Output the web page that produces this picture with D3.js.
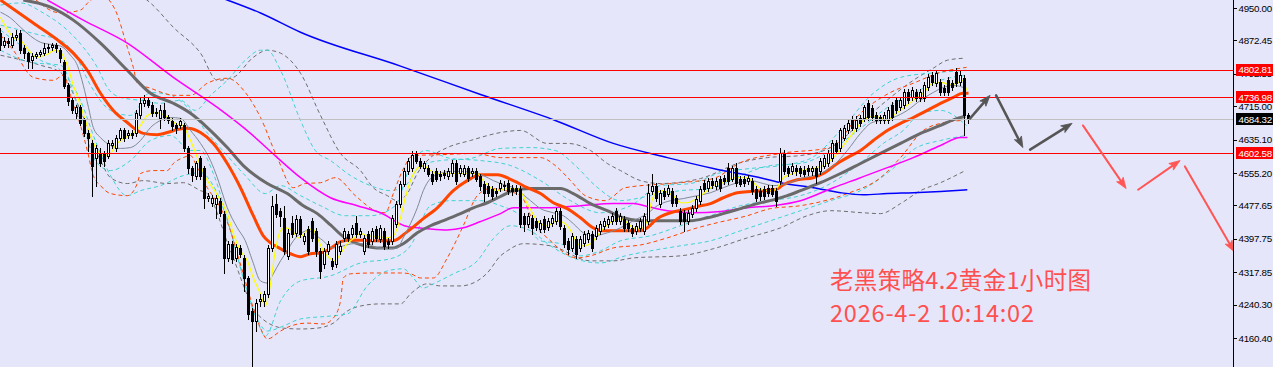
<!DOCTYPE html>
<html><head><meta charset="utf-8">
<script src="https://cdn.jsdelivr.net/npm/d3@7"></script>
<style>
html,body{margin:0;padding:0;background:#e6e6fa;overflow:hidden;}
svg{display:block;}
</style></head><body>
<svg id="c" width="1273" height="367"></svg>
<script>
// ---------------- DATA ----------------
const opens=[4890,4861,4871,4861,4880,4890,4854,4842,4825,4835,
4839,4842,4854,4856,4861,4849,4820,4765,4729,4698,
4712,4681,4650,4626,4592,4604,4602,4597,4621,4616,
4640,4657,4645,4650,4650,4693,4722,4729,4719,4698,
4686,4705,4688,4679,4669,4669,4669,4614,4566,4549,
4590,4566,4496,4484,4482,4489,4458,4352,4386,4352,
4376,4352,4304,4225,4201,4249,4249,4266,4376,4482,
4465,4448,4357,4436,4412,4446,4393,4422,4441,4417,
4369,4338,4369,4345,4338,4369,4400,4410,4410,4436,
4410,4369,4410,4393,4422,4398,4417,4393,4393,4434,
4482,4530,4561,4568,4602,4585,4566,4568,4554,4561,
4554,4556,4549,4556,4580,4556,4554,4566,4556,4561,
4547,4530,4525,4518,4513,4520,4527,4532,4520,4520,
4518,4453,4434,4448,4441,4422,4446,4427,4436,4441,
4465,4424,4393,4376,4398,4376,4388,4398,4410,4405,
4417,4429,4434,4441,4465,4441,4446,4436,4424,4417,
4424,4417,4441,4513,4525,4482,4513,4506,4513,4496,
4465,4460,4441,4458,4472,4489,4532,4520,4537,4525,
4542,4544,4568,4542,4568,4542,4542,4537,4537,4518,
4513,4518,4520,4520,4513,4537,4604,4566,4561,4568,
4566,4563,4568,4559,4566,4561,4573,4578,4592,4626,
4616,4640,4657,4683,4662,4686,4686,4722,4710,4693,
4688,4681,4681,4717,4729,4712,4717,4748,4736,4748,
4734,4734,4760,4789,4770,4772,4758,4777,4770,4796,
4772,4782,4693];
const highs=[4902,4880,4878,4890,4897,4897,4861,4844,4842,4844,
4849,4866,4863,4866,4866,4854,4825,4770,4734,4717,
4717,4686,4657,4633,4621,4614,4609,4633,4633,4645,
4664,4664,4657,4657,4705,4734,4741,4736,4724,4710,
4719,4722,4693,4686,4676,4686,4676,4619,4571,4585,
4597,4573,4508,4503,4503,4496,4465,4393,4393,4386,
4383,4359,4309,4232,4254,4266,4273,4383,4501,4506,
4472,4477,4422,4453,4455,4453,4412,4429,4448,4424,
4376,4376,4393,4352,4393,4393,4424,4417,4431,4453,
4424,4407,4417,4424,4429,4431,4424,4400,4455,4489,
4537,4568,4592,4609,4609,4592,4585,4575,4561,4568,
4561,4563,4568,4587,4587,4575,4575,4573,4568,4568,
4554,4537,4532,4525,4520,4539,4535,4539,4527,4527,
4525,4460,4460,4455,4448,4443,4453,4448,4455,4472,
4472,4431,4400,4412,4405,4405,4417,4419,4417,4431,
4441,4448,4453,4460,4472,4460,4453,4443,4431,4436,
4448,4460,4530,4554,4532,4515,4520,4527,4520,4503,
4472,4467,4467,4479,4501,4525,4539,4544,4544,4544,
4549,4551,4578,4573,4578,4549,4549,4551,4544,4525,
4520,4525,4527,4527,4520,4616,4611,4573,4578,4575,
4573,4571,4575,4573,4573,4592,4599,4611,4633,4633,
4664,4671,4681,4691,4691,4693,4719,4729,4717,4700,
4695,4700,4712,4724,4736,4736,4755,4755,4760,4755,
4755,4772,4791,4796,4801,4779,4765,4784,4777,4806,
4801,4789,4698];
const lows=[4849,4856,4856,4856,4873,4842,4830,4806,4806,4830,
4835,4837,4844,4849,4844,4820,4758,4719,4698,4686,
4669,4643,4609,4501,4525,4571,4573,4590,4614,4609,
4633,4631,4638,4638,4643,4686,4715,4712,4691,4691,
4664,4681,4674,4659,4652,4664,4609,4556,4537,4542,
4542,4472,4489,4477,4448,4453,4316,4345,4340,4345,
4355,4273,4206,4093,4177,4237,4237,4259,4369,4451,
4429,4362,4350,4403,4405,4403,4386,4362,4393,4357,
4304,4328,4362,4326,4331,4362,4393,4393,4403,4403,
4403,4362,4379,4386,4393,4391,4374,4376,4386,4427,
4475,4523,4554,4561,4578,4566,4559,4547,4530,4535,
4539,4544,4542,4549,4530,4549,4547,4537,4549,4535,
4515,4489,4501,4494,4501,4513,4515,4506,4503,4506,
4427,4417,4427,4410,4419,4415,4415,4419,4429,4434,
4422,4379,4362,4369,4352,4369,4381,4391,4369,4398,
4410,4422,4427,4434,4434,4434,4417,4417,4405,4410,
4417,4410,4434,4506,4489,4475,4494,4499,4477,4477,
4434,4417,4434,4451,4465,4482,4511,4513,4520,4518,
4513,4530,4530,4535,4525,4523,4525,4530,4506,4489,
4491,4494,4501,4499,4477,4530,4554,4549,4554,4551,
4549,4547,4551,4551,4532,4554,4566,4571,4585,4602,
4609,4633,4650,4657,4655,4667,4679,4681,4681,4674,
4676,4674,4674,4681,4698,4705,4710,4722,4729,4727,
4727,4727,4753,4765,4763,4741,4741,4741,4753,4763,
4765,4645,4676];
const closes=[4861,4871,4866,4880,4885,4849,4842,4823,4835,4839,
4844,4854,4856,4861,4854,4830,4763,4727,4705,4712,
4676,4650,4640,4571,4614,4578,4585,4626,4626,4640,
4657,4638,4650,4645,4698,4722,4729,4719,4698,4700,
4705,4688,4681,4667,4662,4679,4614,4566,4551,4578,
4549,4496,4501,4496,4496,4460,4352,4386,4350,4379,
4362,4304,4218,4201,4244,4254,4266,4376,4477,4458,
4453,4369,4412,4410,4446,4410,4405,4369,4400,4369,
4321,4369,4386,4333,4386,4381,4417,4400,4424,4410,
4417,4400,4386,4417,4400,4424,4381,4386,4448,4482,
4530,4561,4585,4599,4585,4573,4578,4554,4537,4542,
4547,4551,4561,4580,4537,4568,4568,4544,4561,4542,
4523,4508,4508,4501,4508,4532,4523,4513,4511,4513,
4434,4434,4453,4424,4427,4436,4422,4441,4448,4465,
4429,4386,4374,4405,4362,4398,4410,4412,4376,4424,
4434,4441,4446,4453,4441,4453,4424,4424,4412,4429,
4441,4453,4508,4525,4496,4508,4501,4520,4484,4484,
4441,4441,4460,4472,4494,4518,4518,4537,4527,4537,
4520,4537,4537,4566,4532,4530,4532,4544,4513,4496,
4499,4501,4508,4506,4489,4602,4561,4556,4571,4559,
4556,4554,4559,4566,4549,4585,4592,4604,4626,4609,
4657,4664,4674,4664,4683,4674,4712,4688,4688,4681,
4683,4693,4705,4688,4705,4729,4748,4729,4753,4734,
4748,4765,4784,4772,4794,4748,4748,4748,4760,4770,
4789,4693,4684.32];

const tickValues=[4950.00,4872.45,4792.55,4715.00,4635.10,4555.20,4477.65,4397.75,4317.85,4240.30,4160.40];
const levelValues=[4802.81,4736.98,4602.58];
const bidValue=4684.32;

// indicator lines: [bar index, price]
const maFast=[[0,4928],[3.2,4880],[5,4873],[7,4849],[9.2,4832],[11.2,4837],[13.7,4849],[15,4844],[16.7,4813],[18.2,4765],[20,4717],[21.2,4681],[22.5,4645],[24.2,4609],[25.7,4597],[27.5,4602],[28.7,4621],[31.2,4640],[33.2,4650],[35,4669],[36.7,4693],[38.7,4700],[41.2,4693],[43.7,4674],[45.5,4669],[47.5,4633],[50,4573],[51.7,4537],[53.2,4518],[55,4489],[56.7,4458],[58.2,4410],[60,4369],[61.7,4345],[63.2,4304],[65,4266],[66.2,4237],[67.5,4290],[68.7,4369],[70,4417],[71.2,4424],[73,4417],[74.5,4400],[76.7,4417],[78,4422],[79.2,4400],[80.7,4369],[82.5,4350],[83.7,4345],[85,4362],[86.7,4386],[88.2,4398],[90,4410],[91.7,4405],[94.2,4403],[96.7,4400],[98.2,4405],[100,4448],[101.2,4496],[102.5,4537],[104.2,4566],[105.7,4573],[107.5,4561],[109.2,4554],[111.7,4554],[114.2,4554],[116.7,4554],[119.2,4554],[120.7,4537],[122.5,4520],[124.2,4513],[126.7,4518],[129.2,4518],[131.7,4482],[134.2,4441],[136.7,4429],[139.2,4441],[141.2,4434],[143,4410],[144.2,4386],[145.7,4381],[147.5,4386],[149.2,4405],[150.7,4422],[153.2,4441],[155,4446],[156.7,4436],[158.2,4424],[160,4422],[161.7,4441],[162.5,4477],[163.7,4506],[165.5,4513],[167,4508],[168.7,4496],[170,4484],[171.7,4484],[173.2,4489],[175,4501],[176.7,4513],[178.2,4525],[180,4530],[181.7,4537],[183.2,4544],[185,4544],[186.7,4544],[188.2,4532],[190,4518],[191.7,4513],[193.2,4513],[194.2,4520],[195.5,4542],[196.7,4549],[198.2,4554],[200,4561],[203.2,4566],[205.7,4573],[208.2,4592],[210.7,4621],[213.2,4652],[215.7,4681],[218,4691],[220,4688],[221.7,4681],[223.2,4693],[225.7,4710],[228.2,4729],[230.7,4746],[233,4770],[235,4772],[237.5,4767],[239.2,4770],[240.5,4777],[241.5,4753]];
const maThin=[[0,4940],[2.5,4926],[5,4904],[7.5,4883],[10,4868],[12.5,4863],[15,4859],[17.5,4837],[19.2,4813],[20.7,4765],[22,4712],[23.2,4664],[25,4640],[27.5,4621],[30,4614],[32.5,4616],[35,4633],[37.5,4664],[40,4681],[42.5,4688],[45,4686],[47.5,4657],[50,4626],[52.5,4585],[54.2,4544],[56.7,4472],[59.2,4424],[61.2,4393],[63,4345],[65,4297],[66.7,4292],[68.2,4314],[70,4345],[71.7,4369],[73.2,4393],[75,4410],[76.7,4417],[80,4398],[83.2,4376],[85.7,4381],[88.2,4386],[91.7,4386],[94.2,4376],[96.7,4374],[99.2,4376],[100.7,4400],[102.5,4434],[104.2,4472],[105.7,4513],[107.5,4542],[110,4554],[112.5,4559],[115,4559],[118.2,4556],[120.7,4549],[123.2,4537],[125,4530],[128.2,4520],[132.5,4489],[135,4470],[138.2,4460],[140.7,4453],[143.2,4434],[145.7,4412],[148.2,4405],[151.7,4412],[155,4424],[158.2,4441],[161.7,4458],[164.2,4477],[167.5,4489],[170.7,4494],[174.2,4501],[177.5,4508],[180.7,4520],[184.2,4532],[187.5,4537],[190.7,4530],[193.2,4525],[196.7,4530],[200,4542],[205,4554],[208.2,4573],[211.7,4609],[215,4650],[217.5,4674],[220,4681],[223.2,4688],[226.7,4705],[230,4729],[233.2,4748],[235.7,4760],[238.2,4765],[240.7,4760]];
const maMid=[[0,4969],[8.2,4914],[15,4868],[18.2,4842],[21.7,4801],[25,4746],[28.2,4705],[31.7,4676],[34.2,4657],[35.7,4650],[39.2,4647],[41.7,4652],[44.2,4659],[46.7,4662],[50,4652],[53.2,4626],[56.7,4578],[60,4520],[63.2,4453],[65.7,4405],[67.5,4388],[70,4374],[72.5,4362],[75,4355],[77.5,4362],[80,4364],[83.2,4379],[85,4391],[87.5,4395],[93.2,4393],[98.2,4393],[101.7,4415],[105.7,4446],[109.2,4472],[113.2,4513],[116.7,4537],[120,4551],[124.2,4551],[128.2,4537],[131.7,4520],[135,4506],[138.2,4484],[141.7,4470],[145,4448],[148.2,4424],[150.7,4417],[154.2,4417],[157.5,4417],[160,4417],[161.7,4424],[164.2,4446],[167.5,4460],[170.7,4467],[174.2,4475],[177.5,4482],[180.7,4496],[184.2,4508],[187.5,4511],[190.7,4513],[193.7,4515],[195.7,4527],[199.2,4539],[203.2,4544],[205.7,4554],[209.2,4578],[211.7,4592],[215,4609],[218.2,4633],[221.7,4657],[225,4674],[228.2,4688],[231.7,4705],[235,4722],[238.2,4736],[240.5,4746],[242,4746]];
const maSlow=[[5.7,4969],[12.5,4952],[18.2,4921],[25,4866],[31.7,4801],[37.5,4746],[43.2,4722],[47.5,4698],[51.7,4664],[56.7,4616],[60.7,4573],[66.7,4530],[71.7,4506],[75.7,4477],[79.2,4458],[82.5,4431],[85.7,4403],[89.2,4386],[94.2,4376],[98.2,4376],[100.7,4386],[104.2,4412],[107.5,4429],[110.7,4441],[115,4458],[118.2,4472],[121.7,4484],[125,4499],[128.2,4513],[132.5,4518],[136.7,4518],[140,4518],[143.2,4506],[147.5,4482],[151.7,4465],[155.7,4448],[160,4441],[164.2,4441],[168.2,4441],[172.5,4441],[176.7,4448],[180.7,4458],[185,4470],[189.2,4482],[193.2,4491],[196.7,4501],[200,4513],[205,4532],[210,4554],[215,4578],[220,4602],[225,4626],[230,4650],[235,4669],[239.2,4686],[241.2,4691]];
const maLong=[[11.7,4969],[20.7,4921],[31.7,4866],[43.2,4784],[54.2,4712],[62.5,4650],[69.2,4592],[75,4544],[82.5,4496],[89.2,4477],[95,4460],[101.7,4427],[106.7,4422],[111.7,4419],[115.7,4424],[120,4439],[125,4458],[128.2,4472],[136.7,4472],[145,4477],[153.2,4482],[158.2,4482],[161.7,4475],[166.7,4465],[173.2,4460],[180,4463],[186.7,4472],[193.2,4477],[200,4489],[208.2,4520],[215,4544],[221.7,4568],[228.2,4592],[235,4621],[240,4640],[241.7,4640]];
const maVeryLong=[[55,4975],[56.7,4969],[65,4938],[75,4892],[100,4811],[120,4743],[138.7,4681],[153.2,4626],[166.7,4592],[178.2,4566],[190.7,4542],[195,4532],[203.2,4520],[210,4508],[215.7,4503],[221.7,4506],[228.2,4508],[235,4511],[241.7,4515]];

const bandOrangeUp=[[7.5,4981],[15,4938],[20,4945],[22,4964],[25,4981],[28.7,4945],[31.7,4856],[33.2,4808],[34.2,4770],[37.5,4758],[43.7,4741],[47.5,4741],[51.7,4770],[56.7,4782],[61.2,4748],[65,4688],[69.2,4592],[73.2,4520],[76.2,4530],[80,4532],[83.7,4544],[88.7,4501],[93.7,4465],[96.2,4460],[98.2,4506],[100.5,4561],[103.2,4597],[110,4599],[118.7,4602],[125,4592],[135,4592],[138.7,4573],[142.5,4537],[146.2,4501],[151.2,4489],[156.2,4520],[170,4532],[178.2,4542],[185,4580],[195,4602],[207.5,4616],[215,4698],[222.5,4748],[228.2,4770],[235,4796],[241.5,4808]];
const bandOrangeLow=[[0,4885],[3.2,4849],[8.2,4784],[13.2,4777],[15.7,4789],[17.5,4741],[20,4669],[21.7,4609],[23.2,4549],[25,4525],[27.5,4506],[31.7,4501],[34.2,4530],[35,4554],[38.2,4561],[41.7,4561],[43.2,4578],[45.7,4592],[47.5,4597],[49.2,4568],[51.7,4520],[55,4472],[57.5,4417],[59.2,4362],[60.7,4314],[63.2,4232],[65,4184],[66.7,4158],[70,4177],[72.5,4189],[76.7,4196],[80.7,4194],[83.2,4208],[85,4249],[85.7,4304],[87.5,4314],[93.2,4316],[100,4316],[102.5,4314],[105,4304],[108.2,4304],[111.7,4352],[115.7,4429],[119.2,4501],[122.5,4518],[126.2,4513],[130,4501],[133.7,4429],[136.7,4400],[144.2,4352],[147.5,4357],[153.2,4376],[160,4383],[166.7,4400],[174.2,4424],[178.2,4434],[186.7,4453],[192.5,4470],[200,4477],[211.7,4506],[220,4544],[225,4592],[230.7,4657],[235,4674],[240.5,4681]];
const bandCyanUp=[[0,4957],[5,4962],[10.7,4938],[16.7,4897],[20.7,4856],[24.2,4808],[26.7,4760],[30,4736],[35,4729],[40,4722],[45,4729],[48.7,4705],[52.5,4741],[56.7,4777],[61.2,4825],[65,4849],[66.7,4849],[70,4801],[75,4681],[78.7,4609],[82.5,4585],[87.5,4549],[92.5,4525],[97.5,4513],[101.2,4525],[105,4573],[110,4585],[117.5,4590],[125,4614],[132.5,4616],[138.7,4609],[143.7,4573],[148.7,4525],[155,4489],[162.5,4501],[170,4513],[177.5,4518],[185,4549],[192.5,4573],[200,4578],[207.5,4609],[215,4662],[222.5,4717],[228.7,4748],[235,4777],[241.5,4789]];
const bandCyanLow=[[0,4897],[5,4861],[10,4825],[15,4801],[20,4729],[23.7,4633],[27.5,4549],[31.7,4501],[35,4513],[40,4525],[45.7,4549],[50,4556],[53.2,4525],[57.5,4417],[60.7,4304],[64.2,4206],[66.7,4177],[70.7,4189],[75,4206],[82.5,4213],[86.7,4218],[91.7,4285],[96.7,4321],[100.7,4326],[103.2,4304],[105.7,4280],[108.2,4290],[113.2,4314],[119.2,4345],[123.2,4398],[127.5,4429],[132.5,4417],[137.5,4381],[143.7,4350],[150,4340],[156.2,4357],[162.5,4369],[170,4381],[177.5,4393],[185,4417],[192.5,4441],[200,4465],[207.5,4489],[215,4513],[222.5,4561],[228.7,4614],[235,4633],[241.5,4645]];
const bandCyanInUp=[[0,4909],[10,4885],[15,4873],[18.7,4837],[22.5,4765],[27.5,4705],[32.5,4693],[37.5,4748],[42.5,4741],[47.5,4705],[51.2,4657],[56.2,4602],[61.2,4549],[66.2,4506],[70,4525],[75,4501],[80,4477],[86.2,4453],[92.5,4453],[98.7,4477],[102.5,4573],[106.2,4609],[112.5,4590],[120,4585],[127.5,4573],[135,4537],[142.5,4489],[150,4460],[157.5,4477],[165,4525],[172.5,4530],[180,4556],[187.5,4566],[195,4573],[202.5,4590],[210,4657],[218.2,4746],[225,4784],[232.5,4794],[241.5,4801]];
const bandCyanInLow=[[0,4849],[7.5,4820],[15,4813],[20,4693],[23.7,4585],[27.5,4561],[32.5,4585],[37.5,4633],[42.5,4645],[47.5,4609],[50,4609],[53.2,4554],[57.5,4417],[60.7,4304],[64.2,4201],[66.2,4165],[70,4249],[75,4297],[82.5,4309],[90,4340],[97.5,4350],[102.5,4381],[107.5,4477],[112.5,4489],[120,4489],[125,4477],[130,4453],[135,4393],[140,4386],[145,4357],[150,4369],[155,4393],[162.5,4405],[170,4429],[177.5,4453],[185,4477],[192.5,4489],[200,4501],[207.5,4530],[215.7,4585],[220.7,4626],[225.7,4657],[230,4698],[235,4705],[241.5,4669]];
const bandGrayUp=[[35,4981],[37.5,4962],[43.2,4904],[50,4842],[54.2,4777],[58.2,4784],[63.2,4832],[66.7,4849],[70,4842],[75,4794],[80,4693],[85,4602],[90,4561],[93.2,4520],[96.7,4501],[99.2,4489],[101.7,4506],[104.2,4554],[107.5,4592],[111.7,4616],[117.5,4633],[125,4652],[130,4657],[136.7,4626],[141.7,4626],[147.5,4609],[151.7,4578],[155,4561],[160,4537],[165,4530],[175,4542],[185,4580],[191.7,4592],[200,4597],[207.5,4616],[215.7,4681],[222.5,4736],[228.2,4777],[233.2,4806],[236.7,4825],[241.2,4830]];
const bandGrayLow=[[0,4837],[10,4813],[15,4796],[20,4705],[25,4585],[27.5,4544],[31.7,4530],[35.7,4537],[41.7,4530],[45.7,4532],[50,4513],[51.7,4506],[57.5,4369],[64.2,4218],[70.7,4184],[75,4182],[79.2,4184],[83.2,4196],[86.7,4225],[90,4237],[95,4242],[100,4242],[102.5,4266],[106.7,4290],[110,4285],[115,4285],[119.2,4297],[121.7,4316],[125,4357],[126.7,4369],[130.7,4386],[137.5,4381],[147.5,4345],[153.2,4345],[158.2,4352],[170,4357],[178.2,4374],[186.7,4400],[195,4424],[201.7,4453],[207.5,4465],[215.7,4460],[220,4458],[225,4482],[230,4513],[235,4532],[241.2,4561]];

// forecast arrows: [startBar, startPrice, endBar, endPrice]
const grayArrows=[[242.4,4686,247.4,4741],[248.9,4741,255.6,4616],[257.4,4611,267.9,4674]];
const redArrows=[[270.6,4669,281.4,4518],[284.4,4515,294.9,4585],[296.1,4571,308.4,4367]];

const titleText="老黑策略4.2黄金1小时图";
const timeText="2026-4-2 10:14:02";

// ---------------- CHART ----------------
const W=1273,H=367,axisX=1233;
const svg=d3.select("#c");
svg.append("rect").attr("width",W).attr("height",H).attr("fill","#e6e6fa");
const x=d3.scaleLinear().domain([0,1]).range([0.5,4.5]);
const y=d3.scaleLinear().domain([4160.40,4950]).range([338,8]);

svg.append("clipPath").attr("id","plot").append("rect").attr("x",0).attr("y",0).attr("width",axisX).attr("height",H);
const g=svg.append("g").attr("clip-path","url(#plot)");

const line=d3.line().x(d=>x(d[0])).y(d=>y(d[1])).curve(d3.curveMonotoneX);

// dashed bands
const dashed=[[bandGrayUp,"#6e6e6e"],[bandGrayLow,"#6e6e6e"],[bandCyanUp,"#3fd3d3"],[bandCyanLow,"#3fd3d3"],[bandCyanInUp,"#3fd3d3"],[bandCyanInLow,"#3fd3d3"],[bandOrangeUp,"#ff4500"],[bandOrangeLow,"#ff4500"]];
dashed.forEach(([d,c])=>{
  g.append("path").attr("d",line(d)).attr("fill","none").attr("stroke",c).attr("stroke-width",1).attr("stroke-dasharray","4,3");
});

// moving averages
const mas=[[maVeryLong,"#0000ff",1.5],[maLong,"#ff00ff",1.5],[maSlow,"#6a6a6a",3],[maMid,"#ff4500",3],[maThin,"#7f8a96",1],[maFast,"#ffff00",1.2]];
mas.forEach(([d,c,w])=>{
  g.append("path").attr("d",line(d)).attr("fill","none").attr("stroke",c).attr("stroke-width",w);
});

// candles
const idx=d3.range(closes.length);
const cg=g.append("g").attr("shape-rendering","crispEdges");
idx.forEach(i=>{
  const cx=Math.floor(x(i));
  cg.append("line").attr("x1",cx+0.5).attr("x2",cx+0.5)
    .attr("y1",Math.round(y(highs[i]))).attr("y2",Math.round(y(lows[i]))+1)
    .attr("stroke","#000").attr("stroke-width",1);
  const top=Math.round(y(Math.max(opens[i],closes[i])));
  const bot=Math.round(y(Math.min(opens[i],closes[i])));
  if(closes[i]>opens[i]){
    cg.append("rect").attr("x",cx-0.5).attr("y",top+0.5).attr("width",2).attr("height",Math.max(bot-top,1))
      .attr("fill","#fff").attr("stroke","#000").attr("stroke-width",1);
  } else {
    cg.append("rect").attr("x",cx-1).attr("y",top).attr("width",3).attr("height",Math.max(bot-top,1)+1)
      .attr("fill","#000");
  }
});

// horizontal levels
const hg=g.append("g").attr("shape-rendering","crispEdges");
hg.append("line").attr("x1",0).attr("x2",axisX).attr("y1",Math.round(y(bidValue))+0.5).attr("y2",Math.round(y(bidValue))+0.5)
  .attr("stroke","#c0c0c0").attr("stroke-width",1);
levelValues.forEach(v=>{
  hg.append("line").attr("x1",0).attr("x2",axisX).attr("y1",Math.round(y(v))+0.5).attr("y2",Math.round(y(v))+0.5)
    .attr("stroke","#ff0000").attr("stroke-width",1);
});

// arrows
function arrow(a,color,w){
  const x1=x(a[0]),y1=y(a[1]),x2=x(a[2]),y2=y(a[3]);
  const ang=Math.atan2(y2-y1,x2-x1);
  const L=11,Wd=4;
  const bx=x2-L*Math.cos(ang),by=y2-L*Math.sin(ang);
  g.append("line").attr("x1",x1).attr("y1",y1).attr("x2",bx+2*Math.cos(ang)).attr("y2",by+2*Math.sin(ang))
    .attr("stroke",color).attr("stroke-width",w).attr("stroke-linecap","round");
  const px=-Math.sin(ang),py=Math.cos(ang);
  g.append("path").attr("d",`M${x2},${y2}L${bx+px*Wd},${by+py*Wd}L${bx+2.5*Math.cos(ang)},${by+2.5*Math.sin(ang)}L${bx-px*Wd},${by-py*Wd}Z`)
    .attr("fill",color).attr("stroke",color).attr("stroke-width",0.8).attr("stroke-linejoin","round");
}
grayArrows.forEach(a=>arrow(a,"#555555",2.5));
redArrows.forEach(a=>arrow(a,"#ff5555",2));

// annotation text
svg.append("text").attr("x",830).attr("y",289).text(titleText)
  .attr("font-family","'Noto Sans CJK SC','Noto Sans',sans-serif").attr("font-size",23.5).attr("fill","#ff5050")
  .attr("textLength",261).attr("lengthAdjust","spacing");
svg.append("text").attr("x",830).attr("y",322).text(timeText)
  .attr("font-family","'Noto Sans CJK SC','Noto Sans',sans-serif").attr("font-size",23.5).attr("fill","#ff5050")
  .attr("textLength",204).attr("lengthAdjust","spacing");

// right axis
const ax=svg.append("g").attr("shape-rendering","crispEdges");
ax.append("line").attr("x1",axisX+0.5).attr("x2",axisX+0.5).attr("y1",0).attr("y2",H).attr("stroke","#000");
const fontAxis="'Liberation Sans',Arial,sans-serif";
tickValues.forEach(v=>{
  const ty=Math.round(y(v))+0.5;
  ax.append("line").attr("x1",axisX).attr("x2",axisX+4).attr("y1",ty).attr("y2",ty).attr("stroke","#000");
  svg.append("text").attr("x",1238.5).attr("y",y(v)+3.5).text(v.toFixed(2))
    .attr("font-family",fontAxis).attr("font-size",9.8).attr("letter-spacing",-0.3).attr("fill","#000");
});
function tag(v,bg){
  const ty=y(v);
  svg.append("rect").attr("x",1236).attr("y",Math.round(ty)-6).attr("width",37).attr("height",12).attr("fill",bg).attr("shape-rendering","crispEdges");
  svg.append("text").attr("x",1238.5).attr("y",ty+3.5).text(v.toFixed(2))
    .attr("font-family",fontAxis).attr("font-size",9.8).attr("letter-spacing",-0.3).attr("fill","#fff");
}
levelValues.forEach(v=>tag(v,"#ff0000"));
tag(bidValue,"#000000");
</script>
</body></html>
